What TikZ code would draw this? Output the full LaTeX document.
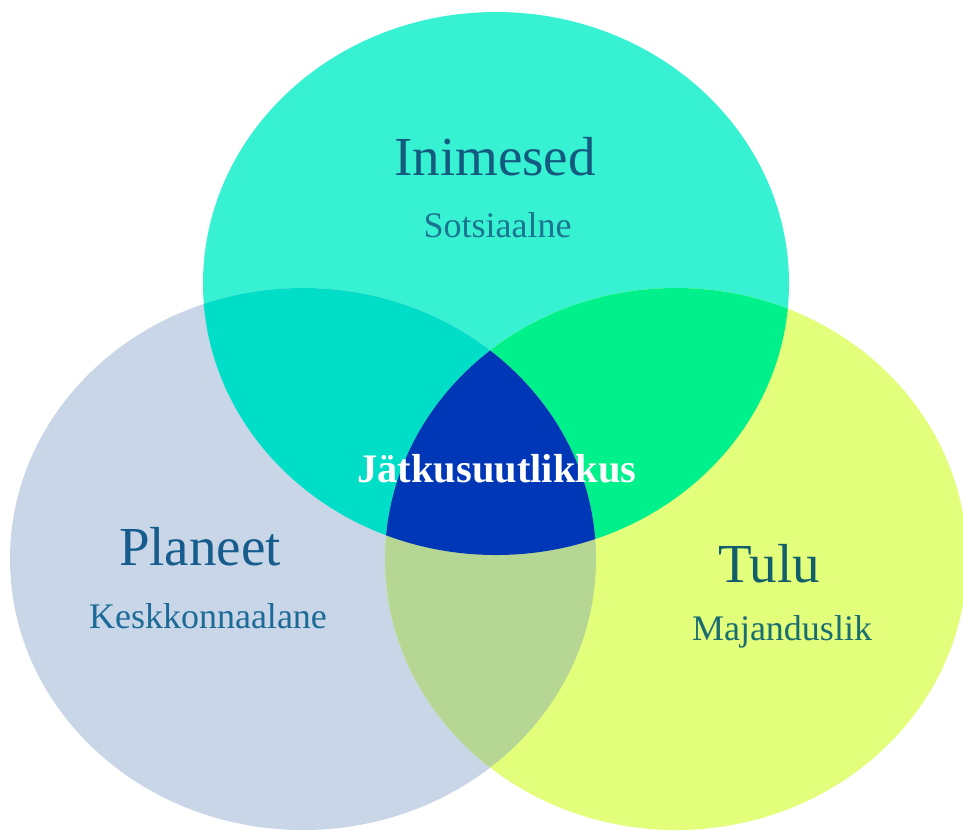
\documentclass[tikz,border=0pt]{standalone}
\usepackage{fontspec}
\setmainfont{Liberation Serif}
\definecolor{cTop}{HTML}{36F2D2}
\definecolor{cLeft}{HTML}{C8D6E8}
\definecolor{cRight}{HTML}{E2FE7A}
\definecolor{cTL}{HTML}{00DEC8}
\definecolor{cTR}{HTML}{00F08C}
\definecolor{cLR}{HTML}{B5D793}
\definecolor{cAll}{HTML}{0037B7}
\definecolor{tTop}{HTML}{135A7E}
\definecolor{tTopS}{HTML}{1C7590}
\definecolor{tLeft}{HTML}{165C8C}
\definecolor{tLeftS}{HTML}{1C6A96}
\definecolor{tRight}{HTML}{115F6A}
\definecolor{tRightS}{HTML}{1A6E72}
\def\Ptop{(496,283.5) ellipse [x radius=293pt, y radius=271.5pt]}
\def\Pleft{(303,559) ellipse [x radius=293pt, y radius=271pt]}
\def\Pright{(676,559) ellipse [x radius=291pt, y radius=271pt]}
\tikzset{
  bigtxt/.style={anchor=base, inner sep=0pt, font=\fontsize{55}{60}\selectfont},
  smalltxt/.style={anchor=base, inner sep=0pt, font=\fontsize{36}{40}\selectfont},
  centertxt/.style={anchor=base, inner sep=0pt, text=white, font=\fontsize{40.5}{44}\selectfont\bfseries}
}
\begin{document}
\begin{tikzpicture}[x=1pt,y=-1pt]
\useasboundingbox (0,0) rectangle (963,831);
\fill[white] (0,0) rectangle (963,831);
\fill[cTop] \Ptop;
\fill[cLeft] \Pleft;
\fill[cRight] \Pright;
\begin{scope}
  \clip \Ptop;
  \fill[cTL] \Pleft;
  \fill[cTR] \Pright;
\end{scope}
\begin{scope}
  \clip \Pleft;
  \fill[cLR] \Pright;
\end{scope}
\begin{scope}
  \clip \Ptop;
  \clip \Pleft;
  \fill[cAll] \Pright;
\end{scope}
\node[bigtxt, text=tTop] (inimesed) at (495,175) {Inimesed};
\node[smalltxt, text=tTopS] (sotsiaalne) at (497.5,237) {Sotsiaalne};
\node[bigtxt, text=tLeft] (planeet) at (200,565) {Planeet};
\node[smalltxt, text=tLeftS] (keskkond) at (208,628) {Keskkonnaalane};
\node[bigtxt, text=tRight] (tulu) at (769,582) {Tulu};
\node[smalltxt, text=tRightS] (majandus) at (782,640) {Majanduslik};
\node[centertxt] (jatk) at (497,482) {Jätkusuutlikkus};
\end{tikzpicture}
\end{document}
